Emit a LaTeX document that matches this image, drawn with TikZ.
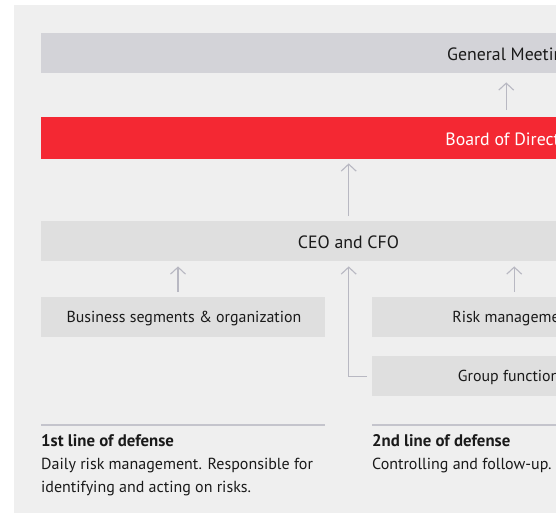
\documentclass[tikz,border=0pt]{standalone}
\usepackage{fontspec}
\setmainfont{PT Sans}
\usetikzlibrary{arrows.meta}
\definecolor{bgc}{HTML}{EFEFEF}
\definecolor{gmc}{HTML}{D3D3D8}
\definecolor{boxc}{HTML}{DFDFDF}
\definecolor{redc}{HTML}{F42833}
\definecolor{arrc}{HTML}{B8B8C2}
\definecolor{sepc}{HTML}{C4C4CC}
\definecolor{txtc}{HTML}{1A1A1A}
\tikzset{
  bar/.style={fill=#1, draw=none, inner sep=0pt, anchor=north west},
  conn/.style={draw=arrc, line width=1.1pt, -{Straight Barb[length=7pt,width=15pt,line width=1.1pt]}},
  biglbl/.style={inner sep=0pt, anchor=base, font=\fontsize{17.8}{20}\selectfont, text=txtc},
  lbl/.style={inner sep=0pt, anchor=base, font=\fontsize{15.9}{19}\selectfont, text=txtc},
  desc/.style={inner sep=0pt, anchor=base west, font=\fontsize{16}{19}\selectfont, text=txtc},
  head/.style={desc, font=\fontsize{16.8}{19}\selectfont\bfseries},
  sep/.style={draw=sepc, line width=2pt}
}
\begin{document}
\begin{tikzpicture}[x=1pt,y=-1pt]
\useasboundingbox (0,0) rectangle (556,514);
\clip (0,0) rectangle (556,514);
\fill[white] (0,0) rectangle (556,514);
\fill[bgc] (14,5) rectangle (600,513);
% bars
\node[bar=gmc, minimum width=930pt, minimum height=40pt] (gm) at (41,33) {};
\node[biglbl] (gmt) at (510,60) {General Meeting};
\node[bar=redc, minimum width=930pt, minimum height=42pt] (board) at (41,117) {};
\node[biglbl, text=white] (boardt) at (514,145) {Board of Directors};
\node[bar=boxc, minimum width=615pt, minimum height=40pt] (ceo) at (41,221) {};
\node[biglbl] (ceot) at (348.5,248) {CEO and CFO};
\node[bar=boxc, minimum width=284pt, minimum height=40pt] (bus) at (41,297) {};
\node[lbl] (bust) at (184,322.5) {Business segments \& organization};
\node[bar=boxc, minimum width=284pt, minimum height=40pt] (risk) at (372,297) {};
\node[lbl] (riskt) at (513,322.5) {Risk management};
\node[bar=boxc, minimum width=284pt, minimum height=40pt] (grp) at (372,356) {};
\node[lbl] (grpt) at (512,381.5) {Group functions};
% connectors
\coordinate (ceob) at ([yshift=-5pt]ceo.south);
\coordinate (ceot2) at ([yshift=5pt]ceo.north);
\coordinate (boardb) at ([yshift=-4pt]board.south);
\coordinate (busa) at (178,292);
\coordinate (riska) at ([yshift=5pt]risk.north);
\draw[conn] ([yshift=7pt]board.north) -- ([yshift=-9pt]gm.south);
\draw[conn] (ceot2) -- (ceot2 |- boardb);
\draw[conn] (busa) -- (busa |- ceob);
\draw[conn] (riska) -- (riska |- ceob);
\draw[conn] ([xshift=-5pt]grp.west) -| (ceob);
% separators
\coordinate (s1a) at (41,425); \coordinate (s1b) at (325,425);
\coordinate (s2a) at (372,425); \coordinate (s2b) at (656,425);
\draw[sep] (s1a) -- (s1b);
\draw[sep] (s2a) -- (s2b);
% descriptions
\node[head] (d1h) at (41,446) {1st line of defense};
\node[desc] (d1a) at (41,469) {Daily risk management. Responsible for};
\node[desc] (d1b) at (41,492) {identifying and acting on risks.};
\node[head] (d2h) at (372,446) {2nd line of defense};
\node[desc] (d2a) at (372,469) {Controlling and follow-up.};
\end{tikzpicture}
\end{document}
